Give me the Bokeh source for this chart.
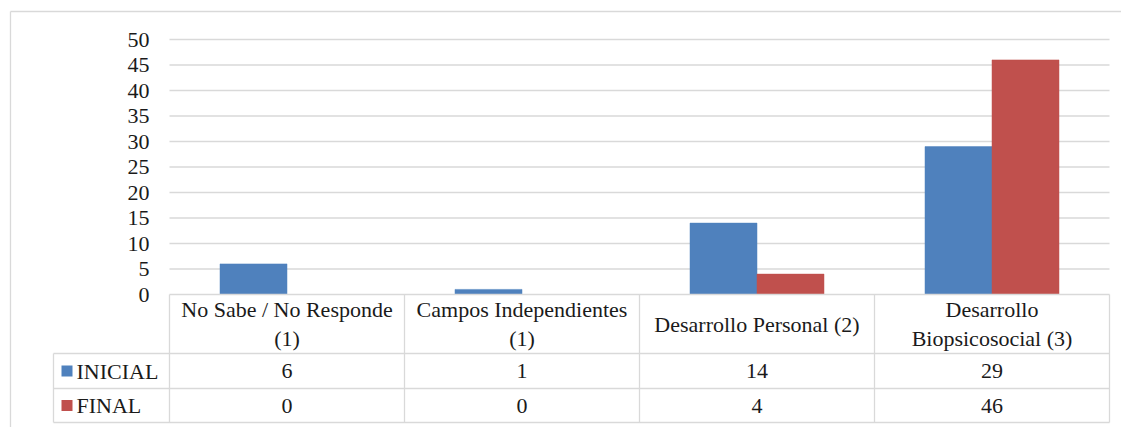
from bokeh.plotting import figure
from bokeh.models import Range1d
from bokeh.core.properties import value
from bokeh.embed import file_html
from bokeh.resources import INLINE

# ---- data ----
categories = ["No Sabe / No Responde\n(1)", "Campos Independientes\n(1)",
              "Desarrollo Personal (2)", "Desarrollo\nBiopsicosocial (3)"]
series_names = ["INICIAL", "FINAL"]
inicial = [6, 1, 14, 29]
final = [0, 0, 4, 46]
y_ticks = [0, 5, 10, 15, 20, 25, 30, 35, 40, 45, 50]
colors = ["#4F81BD", "#C0504D"]

# ---- layout helpers (canvas pixels -> data units) ----
W, H = 1121, 427
X0, PXU = 169.0, 235.0   # left of category area, px per category
Y0, PYU = 294.0, 5.1     # zero line, px per unit
def dx(px): return (px - X0) / PXU
def dy(py): return (Y0 - py) / PYU

FONT = value("Liberation Serif")
FS = "22px"
TXT = "#1a1a1a"
GRID = "#d9d9d9"

p = figure(width=W, height=H, output_backend="svg", toolbar_location=None,
           x_range=Range1d(dx(0), dx(W)), y_range=Range1d(dy(H), dy(0)),
           x_axis_type=None, y_axis_type=None, min_border=0)
p.outline_line_color = None
p.background_fill_color = "white"
p.border_fill_color = "white"

n = len(categories)
# gridlines
gy = [t for t in y_ticks if t > 0]
p.segment(x0=[0] * len(gy), x1=[n] * len(gy), y0=gy, y1=gy, line_color=GRID, line_width=1.3)

# outer chart border (top & left)
p.segment(x0=[dx(10), dx(10)], x1=[dx(1125), dx(10)], y0=[dy(11), dy(11)], y1=[dy(11), dy(430)],
          line_color=GRID, line_width=1.3)

# bars
bw = 67.0 / PXU
centers = [i + 0.5 for i in range(n)]
p.vbar(x=[c - bw / 2 for c in centers], top=inicial, bottom=0, width=bw,
       fill_color=colors[0], line_color=colors[0], line_width=0.5)
p.vbar(x=[c + bw / 2 for c in centers], top=final, bottom=0, width=bw,
       fill_color=colors[1], line_color=colors[1], line_width=0.5)

# y tick labels
p.text(x=[dx(149)] * len(y_ticks), y=y_ticks, text=[str(t) for t in y_ticks],
       text_align="right", text_baseline="middle", text_font=FONT,
       text_font_size=FS, text_color=TXT)

# data table lines
row_tops = [294, 353, 388, 422]
hx0 = [0, dx(53), dx(53), dx(53)]
p.segment(x0=hx0, x1=[n] * 4, y0=[dy(r) for r in row_tops], y1=[dy(r) for r in row_tops],
          line_color=GRID, line_width=1.3)
p.segment(x0=list(range(n + 1)), x1=list(range(n + 1)),
          y0=[dy(294)] * (n + 1), y1=[dy(422)] * (n + 1), line_color=GRID, line_width=1.3)
p.segment(x0=[dx(53)], x1=[dx(53)], y0=[dy(353)], y1=[dy(422)], line_color=GRID, line_width=1.3)

# header texts
p.text(x=centers, y=[dy(323.5)] * n, text=categories, text_align="center",
       text_baseline="middle", text_font=FONT, text_font_size=FS,
       text_color=TXT, text_line_height=1.18)

# values
row_y = [dy(370.5), dy(405)]
for vals, ry in zip([inicial, final], row_y):
    p.text(x=centers, y=[ry] * n, text=[str(v) for v in vals], text_align="center",
           text_baseline="middle", text_font=FONT, text_font_size=FS, text_color=TXT)

# row labels with legend keys
p.rect(x=[dx(66.5)] * 2, y=row_y, width=11, height=11, width_units="screen",
       height_units="screen", fill_color=colors, line_color=None)
p.text(x=[dx(76)] * 2, y=row_y, text=series_names, text_align="left",
       text_baseline="middle", text_font=FONT, text_font_size=FS, text_color=TXT)

open("out.html", "w").write(file_html(p, INLINE))
